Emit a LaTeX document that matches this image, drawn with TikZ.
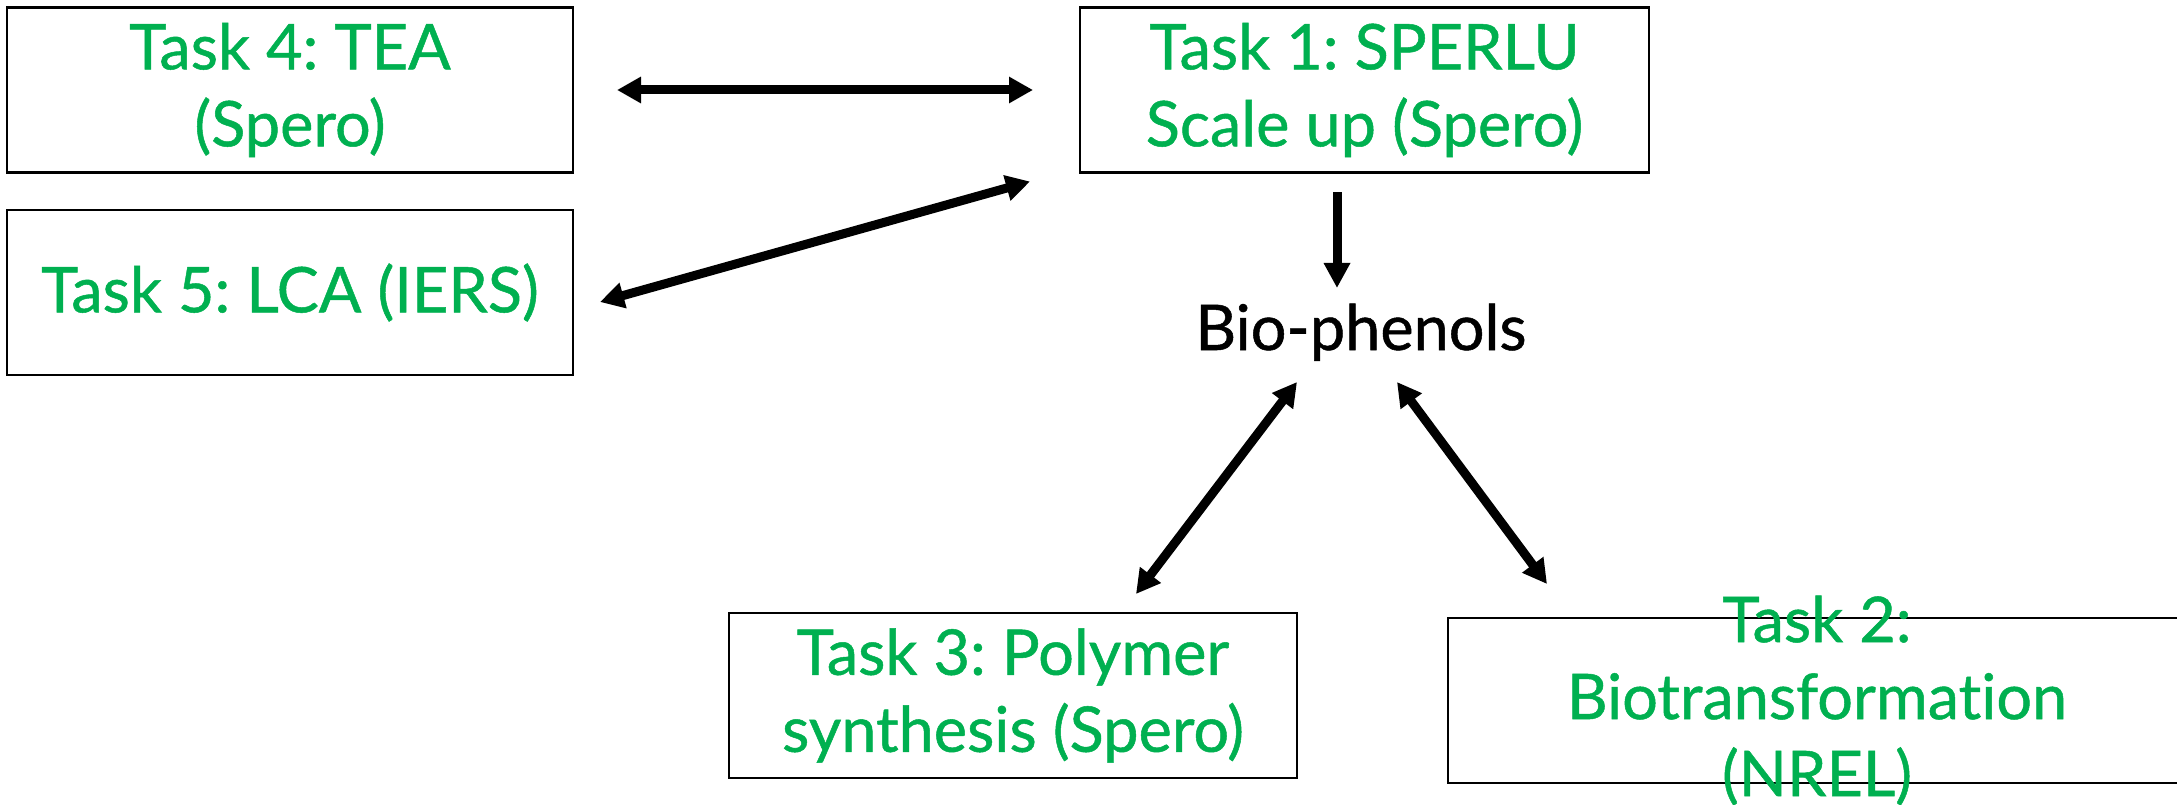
\documentclass[tikz,border=0pt]{standalone}
\usepackage{fontspec}
\setmainfont{Lato}[Ligatures={NoCommon,NoRare}]
\newfontfamily\latomed{Lato}[Ligatures={NoCommon,NoRare}, FakeBold=0.8]
\usetikzlibrary{arrows.meta}
\definecolor{taskgreen}{RGB}{0,176,80}
\tikzset{
  taskbox/.style={draw=black, line width=2.5pt, minimum width=566pt, minimum height=165pt, inner sep=0pt, outer sep=0pt},
  tasktext/.style={text=taskgreen, align=center, font=\latomed\fontsize{63}{77}\selectfont\frenchspacing, inner sep=0pt},
  arr/.style={line width=9pt, {Triangle[length=24pt,width=25pt]}-{Triangle[length=24pt,width=25pt]}},
  arrone/.style={line width=9pt, -{Triangle[length=25pt,width=25pt]}}
}
\begin{document}
\begin{tikzpicture}[x=1pt,y=-1pt]
\useasboundingbox (0,0) rectangle (2177,805);
\begin{scope}
\clip (0,0) rectangle (2177,805);
\node[taskbox] (t4) at (290,90) {};
\node[tasktext] (t4l) at (t4.center) {Task 4: TEA\\(Spero)};
\node[taskbox, minimum width=569pt] (t1) at (1364.5,90) {};
\node[tasktext] (t1l) at (t1.center) {Task 1: SPERLU\\Scale up (Spero)};
\node[taskbox] (t5) at (290,292.5) {};
\node[tasktext] (t5l) at (t5.center) {Task 5: LCA (IERS)};
\node[taskbox, minimum width=568pt] (t3) at (1013,695.5) {};
\node[tasktext] (t3l) at (t3.center) {Task 3: Polymer\\synthesis (Spero)};
\node[taskbox, minimum width=738pt] (t2) at (1817,700.5) {};
\node[tasktext] (t2l) at (t2.center) {Task 2:\\Biotransformation\\(NREL)};
\node[anchor=base, inner sep=0pt, font=\latomed\fontsize{63}{77}\selectfont] (bio) at (1361,350) {Bio-phenols};

\draw[arr, shorten <=44pt, shorten >=47pt] (t4.east) -- (t1.west);
\draw[arr] ([xshift=27pt,yshift=-9.5pt]t5.east) -- ([xshift=-50pt,yshift=-9pt]t1.south west);
\draw[arrone] ([xshift=-27.5pt,yshift=-20pt]t1.south) -- ([xshift=-24pt,yshift=62pt]bio.base);
\draw[arr] ([xshift=-64pt,yshift=-32pt]bio.base) -- ([xshift=123pt,yshift=19pt]t3.north);
\draw[arr] ([xshift=36pt,yshift=-32pt]bio.base) -- ([xshift=-270pt,yshift=34pt]t2.north);
\end{scope}
\end{tikzpicture}
\end{document}
